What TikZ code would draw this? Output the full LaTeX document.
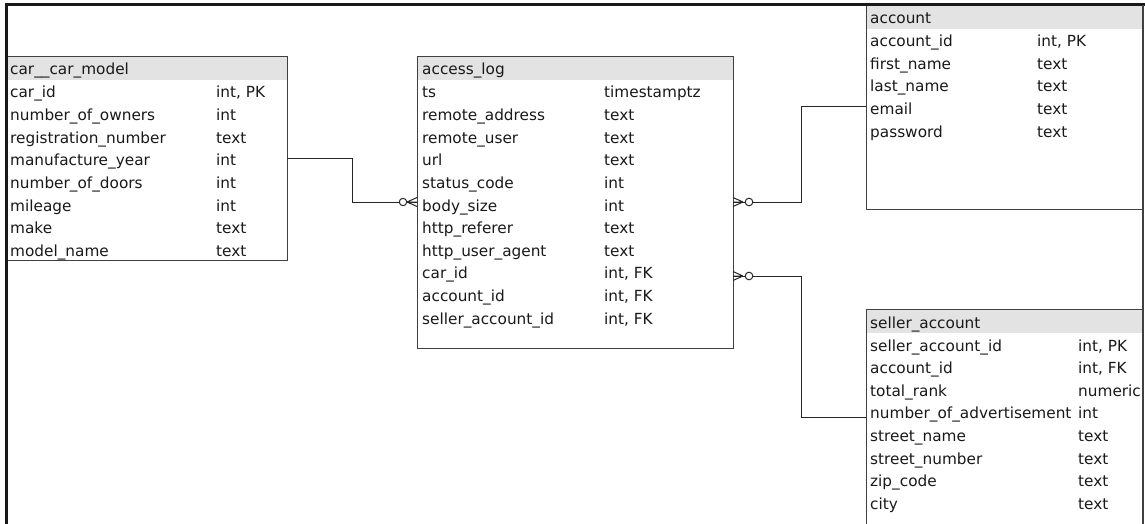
\documentclass[tikz,border=0pt]{standalone}
\usepackage{fontspec}
\setmainfont{DejaVu Sans}
\begin{document}
\begin{tikzpicture}[x=1pt,y=-1pt,
  tbl/.style={draw=black!75, line width=1pt, anchor=north west, inner sep=0pt, outer sep=0pt},
  hdr/.style={fill=black!11, anchor=north west, inner sep=0pt, outer sep=0pt},
  txt/.style={anchor=base west, inner sep=0pt, text=black!90, font=\fontsize{15.3}{18}\selectfont},
  conn/.style={draw=black!85, line width=1pt},
  ring/.style={draw=black!85, line width=1pt, fill=white},
  foot/.style={draw=black!85, line width=1pt}]
\clip (0,0) rectangle (1145,524);
\useasboundingbox (0,0) rectangle (1145,524);
\fill[white] (0,0) rectangle (1145,524);

% ---------- car__car_model ----------
\node[hdr, minimum width=280pt, minimum height=23pt] (carh) at (7,57) {};
\node[tbl, minimum width=280pt, minimum height=203pt] (car) at (7,57) {};
\node[txt] (carT) at (10,75) {car\_\_car\_model};
\foreach \n/\t [count=\i] in {car\_id/{int, PK}, number\_of\_owners/int, registration\_number/text, manufacture\_year/int, number\_of\_doors/int, mileage/int, make/text, model\_name/text}{
  \node[txt] (car-n\i) at (10,{98+22.6*(\i-1)}) {\n};
  \node[txt] (car-t\i) at (216,{98+22.6*(\i-1)}) {\t};
}

% ---------- access_log ----------
\node[hdr, minimum width=316pt, minimum height=23pt] (acch) at (417,57) {};
\node[tbl, minimum width=316pt, minimum height=291pt] (acc) at (417,57) {};
\node[txt] (accT) at (422,75) {access\_log};
\foreach \n/\t [count=\i] in {ts/timestamptz, remote\_address/text, remote\_user/text, url/text, status\_code/int, body\_size/int, http\_referer/text, http\_user\_agent/text, car\_id/{int, FK}, account\_id/{int, FK}, seller\_account\_id/{int, FK}}{
  \node[txt] (acc-n\i) at (422,{98+22.6*(\i-1)}) {\n};
  \node[txt] (acc-t\i) at (604,{98+22.6*(\i-1)}) {\t};
}

% ---------- account ----------
\node[hdr, minimum width=277pt, minimum height=23pt] (acth) at (866,6) {};
\node[tbl, minimum width=277pt, minimum height=203pt] (act) at (866,6) {};
\node[txt] (actT) at (870,24) {account};
\foreach \n/\t [count=\i] in {account\_id/{int, PK}, first\_name/text, last\_name/text, email/text, password/text}{
  \node[txt] (act-n\i) at (870,{46.6+22.6*(\i-1)}) {\n};
  \node[txt] (act-t\i) at (1037,{46.6+22.6*(\i-1)}) {\t};
}

% ---------- seller_account ----------
\node[hdr, minimum width=277pt, minimum height=24pt] (selh) at (866,309) {};
\node[tbl, minimum width=277pt, minimum height=230pt] (sel) at (866,309) {};
\node[txt] (selT) at (870,328) {seller\_account};
\foreach \n/\t [count=\i] in {seller\_account\_id/{int, PK}, account\_id/{int, FK}, total\_rank/numeric, number\_of\_advertisement/int, street\_name/text, street\_number/text, zip\_code/text, city/text}{
  \node[txt] (sel-n\i) at (870,{351+22.6*(\i-1)}) {\n};
  \node[txt] (sel-t\i) at (1078,{351+22.6*(\i-1)}) {\t};
}

% ---------- connectors ----------
\coordinate (b1) at (352,158);
\coordinate (b2) at (801,107);
\coordinate (b3) at (801,417);
\draw[conn] (car.east |- b1) -- (b1) |- (acc.west |- 0,202);
\draw[conn] (act.west |- b2) -- (b2) |- (acc.east |- 0,202);
\draw[conn] (sel.west |- b3) -- (b3) |- (acc.east |- 0,276);

% crow's feet (zero or many)
\draw[ring] (403,202) circle (3.7pt);
\draw[foot] (407,202) -- (417,197.5) (407,202) -- (417,206.5) (407,202) -- (417,202);
\foreach \yy in {202,276}{
  \draw[ring] (749,\yy) circle (3.8pt);
  \draw[foot] (743,\yy) -- (733,\yy-4.5) (743,\yy) -- (733,\yy+4.5) (743,\yy) -- (733,\yy);
}

% ---------- outer frame ----------
\draw[black!90, line width=3pt] (6,524) -- (6,5) -- (1145,5);
\draw[black!75, line width=1.2pt] (1143,5) -- (1143,524);
\end{tikzpicture}
\end{document}
